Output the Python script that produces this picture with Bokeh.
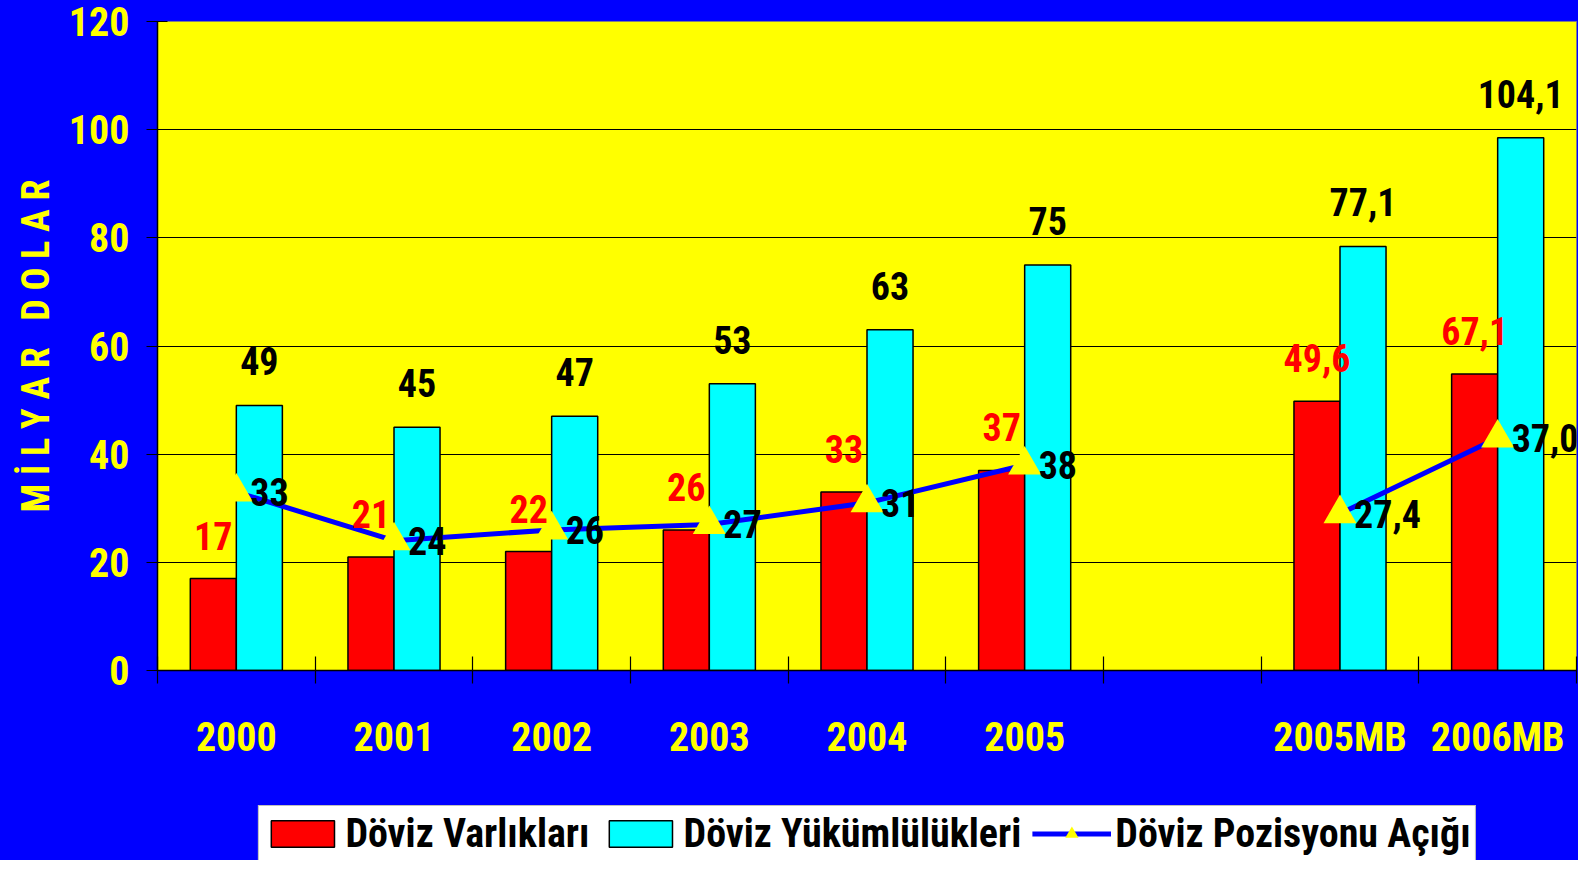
import numpy as np
from bokeh.plotting import figure
from bokeh.layouts import column
from bokeh.models import FixedTicker, ColumnDataSource, Legend, LegendItem, Range1d, LabelSet
from bokeh.embed import file_html
from bokeh.resources import INLINE
from bokeh.core.properties import value

# ---- data ----
categories = ["2000", "2001", "2002", "2003", "2004", "2005", "", "2005MB", "2006MB"]
assets = [17, 21, 22, 26, 33, 37, np.nan, 49.8, 54.8]            # Döviz Varlıkları
liabilities = [49, 45, 47, 53, 63, 75, np.nan, 78.4, 98.5]        # Döviz Yükümlülükleri
position = [33, 24, 26, 27, 31, 38, np.nan, 29, 43]               # Döviz Pozisyonu Açığı
asset_labels = ["17", "21", "22", "26", "33", "37", "", "49,6", "67,1"]
liability_labels = ["49", "45", "47", "53", "63", "75", "", "77,1", "104,1"]
position_labels = ["33", "24", "26", "27", "31", "38", "", "27,4", "37,0"]
y_ticks = [0, 20, 40, 60, 80, 100, 120]
series_names = ["Döviz Varlıkları", "Döviz Yükümlülükleri", "Döviz Pozisyonu Açığı"]
y_title = "M İ L Y A R \u00a0 D O L A R"

# ---- styles ----
FONT = "Roboto Condensed, Liberation Sans"
BLUE_BG = "#0000FF"
YELLOW = "#FFFF00"
RED = "#FF0000"
CYAN = "#00FFFF"
LINE_BLUE = "#0000FF"
BAR_W = 0.292
FS = "40px"
LFS = "38px"

n = len(categories)
xc = np.arange(n) + 0.5

src = ColumnDataSource(dict(
    xc=xc,
    xr=xc - BAR_W / 2,
    xy=xc + BAR_W / 2,
    assets=assets,
    liabilities=liabilities,
    position=position,
    al=asset_labels,
    ll=liability_labels,
    pl=position_labels,
))

p = figure(
    frame_width=1419, frame_height=649,
    min_border_left=157, min_border_right=2, min_border_top=21, min_border_bottom=118,
    x_range=Range1d(0, n), y_range=Range1d(0, 120),
    output_backend="svg", toolbar_location=None,
    background_fill_color=YELLOW, border_fill_color=BLUE_BG,
    outline_line_color="#808080", outline_line_width=1,
)

# grid
p.xgrid.visible = False
p.ygrid.ticker = FixedTicker(ticks=y_ticks)
p.ygrid.grid_line_color = "black"
p.ygrid.grid_line_width = 1

bar_a = dict(x="xr", top="assets", width=BAR_W, source=src, fill_color=RED,
             line_color="black", line_width=1.5)
bar_l = dict(x="xy", top="liabilities", width=BAR_W, source=src, fill_color=CYAN,
             line_color="black", line_width=1.5)
line_p = dict(x="xc", y="position", source=src, line_color=LINE_BLUE, line_width=5)
mark_p = dict(x="xc", y="position", source=src, marker="triangle", size=33,
              fill_color=YELLOW, line_color=None)

# bars, line + triangles
p.vbar(**bar_a)
p.vbar(**bar_l)
p.line(**line_p)
p.scatter(**mark_p)

# data labels (annotations, so they are not clipped to the plot frame)
common = dict(text_font=value(FONT), text_font_style="bold", text_font_size=LFS, source=src)
p.add_layout(LabelSet(x="xr", y="assets", text="al", text_align="center",
                      text_baseline="middle", y_offset=43, text_color=RED, **common))
p.add_layout(LabelSet(x="xy", y="liabilities", text="ll", text_align="center",
                      text_baseline="middle", y_offset=44, text_color="black", **common))
p.add_layout(LabelSet(x="xc", y="position", text="pl", text_align="left",
                      text_baseline="middle", x_offset=14, text_color="black", **common))

# x axis
xa = p.xaxis[0]
xa.ticker = FixedTicker(ticks=list(xc), minor_ticks=list(range(n + 1)))
xa.major_label_overrides = {float(x): c for x, c in zip(xc, categories)}
xa.major_tick_in = 0
xa.major_tick_out = 0
xa.minor_tick_in = 14
xa.minor_tick_out = 13
xa.minor_tick_line_color = "black"
xa.minor_tick_line_width = 1.2
xa.axis_line_color = "black"
xa.axis_line_width = 1.5
xa.major_label_standoff = 30
xa.major_label_text_font = FONT
xa.major_label_text_font_style = "bold"
xa.major_label_text_font_size = FS
xa.major_label_text_color = YELLOW

# y axis
ya = p.yaxis[0]
ya.ticker = FixedTicker(ticks=y_ticks)
ya.major_tick_in = 10
ya.major_tick_out = 11
ya.major_tick_line_color = "black"
ya.major_tick_line_width = 1.2
ya.minor_tick_line_color = None
ya.axis_line_color = "black"
ya.axis_line_width = 1.5
ya.major_label_standoff = 17
ya.major_label_text_font = FONT
ya.major_label_text_font_style = "bold"
ya.major_label_text_font_size = FS
ya.major_label_text_color = YELLOW
ya.axis_label = y_title
ya.axis_label_standoff = 8
ya.axis_label_text_font = FONT
ya.axis_label_text_font_style = "bold"
ya.axis_label_text_font_size = "38px"
ya.axis_label_text_color = YELLOW

# ---- legend strip under the chart (frame aligned with the chart's frame) ----
q = figure(
    width=1578, height=72,
    min_border_left=157, min_border_right=2, min_border_top=5, min_border_bottom=0,
    x_axis_type=None, y_axis_type=None,
    output_backend="svg", toolbar_location=None,
    background_fill_color=BLUE_BG, background_fill_alpha=0.0,
    border_fill_color=BLUE_BG, outline_line_color=None,
)
l1 = q.vbar(visible=False, **bar_a)
l2 = q.vbar(visible=False, **bar_l)
l3 = q.line(visible=False, **line_p)
l4 = q.scatter(visible=False, **mark_p)

legend = Legend(
    items=[
        LegendItem(label=series_names[0], renderers=[l1]),
        LegendItem(label=series_names[1], renderers=[l2]),
        LegendItem(label=series_names[2], renderers=[l3, l4]),
    ],
    orientation="horizontal",
    location="top_center",
    label_text_font=FONT, label_text_font_style="bold", label_text_font_size="40px",
    label_text_color="black",
    glyph_width=79, glyph_height=33, label_standoff=4, spacing=11, padding=4, margin=12,
    border_line_color="#808080", border_line_width=1,
    background_fill_color="white", background_fill_alpha=1.0,
    inactive_fill_alpha=0.0,
)
q.add_layout(legend)

layout = column(p, q, spacing=0, styles={"background-color": BLUE_BG})
open("out.html", "w").write(file_html(layout, INLINE))
